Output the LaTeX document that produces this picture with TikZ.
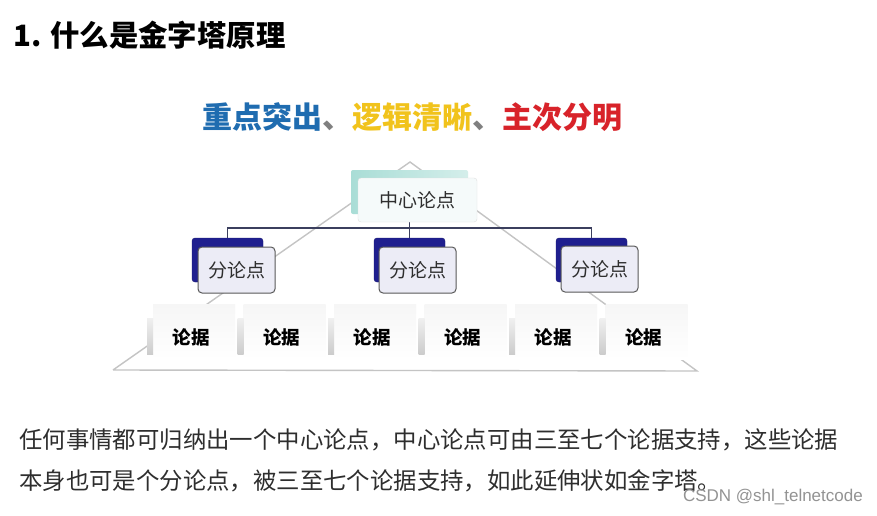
\documentclass[tikz,border=0pt]{standalone}
\usepackage{fontspec}
\setmainfont{Noto Sans CJK SC}
\newfontfamily\wmfont{Liberation Sans}
\definecolor{tealback}{HTML}{A9DDD6}
\definecolor{navyback}{HTML}{1F1F8F}
\definecolor{subfill}{HTML}{ECECF6}
\definecolor{busline}{HTML}{3B3F5E}
\definecolor{pyr}{HTML}{C4C4C4}
\definecolor{cblue}{HTML}{1F6CB0}
\definecolor{cyellow}{HTML}{F1C31C}
\definecolor{cred}{HTML}{D8232A}
\definecolor{txt}{HTML}{2E2E2E}
\tikzset{
  fs/.style={font=\fontsize{#1}{#1}\selectfont},
  centerback/.style={draw=none, left color=tealback, right color=tealback!50, minimum width=117pt, minimum height=44pt, inner sep=0pt, rounded corners=2pt},
  centerfront/.style={draw=gray!25, fill=white!96!teal, minimum width=119pt, minimum height=44pt, inner sep=0pt, rounded corners=3pt, text=txt, fs=19},
  subback/.style={fill=navyback, draw=navyback!80!black, minimum width=71pt, minimum height=44pt, inner sep=0pt, rounded corners=3pt},
  subfront/.style={fill=subfill, draw=gray!70!black, line width=1pt, minimum width=77pt, minimum height=46pt, inner sep=0pt, rounded corners=4pt, text=txt, fs=19},
  evbox/.style={top color=gray!7, bottom color=white, draw=none, minimum width=82pt, minimum height=55pt, inner sep=0pt},
  evstrip/.style={draw=none, top color=gray!12, bottom color=gray!40, minimum width=6pt, minimum height=36pt, inner sep=0pt},
  evtext/.style={font=\fontsize{18.5}{18.5}\selectfont\bfseries, text=black},
  bus/.style={draw=busline, line width=1.8pt},
  pyrline/.style={draw=pyr, line width=1.4pt}
}
\begin{document}
\begin{tikzpicture}[x=1pt,y=-1pt]
\useasboundingbox (0,0) rectangle (877,516);
\fill[white] (0,0) rectangle (877,516);

% title
\node[anchor=west, inner sep=0pt, font=\fontsize{29.4}{29.4}\selectfont\bfseries] (title) at (13,35) {1. 什么是金字塔原理};
\node[inner sep=0pt, font=\fontsize{30}{30}\selectfont\bfseries] (sub) at (412,117)
  {\textcolor{cblue}{重点突出}\textcolor{gray}{、}\textcolor{cyellow}{逻辑清晰}\textcolor{gray}{、}\textcolor{cred}{主次分明}};

% pyramid outline
\coordinate (apex) at (410,162);
\coordinate (bl) at (113,370);
\coordinate (br) at (697,371);
\draw[pyrline] (bl) -- (apex) -- (br) -- (bl);

% evidence boxes
\foreach \i/\x in {1/191,2/281.5,3/372,4/462.5,5/553,6/643.5} {
  \node[evbox] (ev\i) at (\x+3,332) {};
  \node[evstrip] (es\i) at (\x-41,336) {};
  \node[evtext] (et\i) at (\x,337) {论据};
}

% center node
\node[centerback] (cb) at (409.5,192) {};
% sub-point back boxes and bus connectors
\node[subback] (lb) at (227.5,260) {};
\node[subback] (mb) at (409.5,260) {};
\node[subback] (rb) at (591.5,260) {};
\draw[bus] (cb.south) -- (mb.north);
\draw[bus] (lb.north) -- ++(0,-10) -| (rb.north);
\node[centerfront] (cf) at (417.5,200) {中心论点};
\node[subfront] (lf) at (236.5,270) {分论点};
\node[subfront] (mf) at (417.5,270) {分论点};
\node[subfront] (rf) at (599.5,269) {分论点};

% paragraph
\node[anchor=west, inner sep=0pt, text=txt, fs=23.4] (p1) at (19,440) {任何事情都可归纳出一个中心论点，中心论点可由三至七个论据支持，这些论据};
\node[anchor=west, inner sep=0pt, text=txt, fs=23.4] (p2) at (19,481) {本身也可是个分论点，被三至七个论据支持，如此延伸状如金字塔。};
\node[anchor=east, inner sep=0pt, text=gray!85, font=\wmfont\fontsize{17}{17}\selectfont] (wm) at (863,497) {CSDN @shl\_telnetcode};
\end{tikzpicture}
\end{document}
